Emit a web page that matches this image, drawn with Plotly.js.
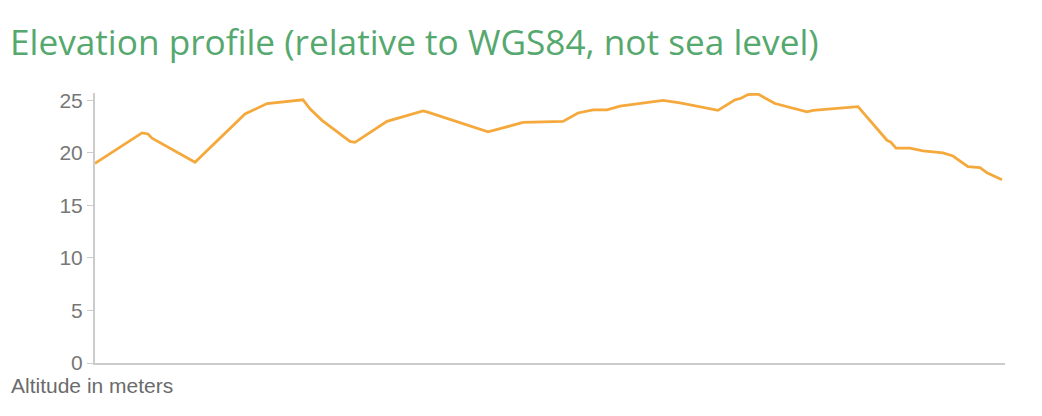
<!DOCTYPE html>
<html><head><meta charset="utf-8">
<script src="https://cdn.plot.ly/plotly-3.0.1.min.js"></script>
<style>html,body{margin:0;padding:0;background:#fff}#chart{width:1042px;height:416px}</style>
</head><body><div id="chart"></div>
<script>
// distance along the route (arbitrary units) and altitude in meters
var distance = [0, 47, 53, 57, 100, 150, 172, 208, 215, 227, 255, 260, 292, 328, 332, 393, 428, 468, 483, 498, 512, 525, 568, 585, 623, 640, 646, 653, 663, 680, 712, 718, 763, 792, 796, 801, 815, 828, 848, 858, 873, 885, 892, 907];
var altitude = [19.0, 21.9, 21.8, 21.4, 19.1, 23.7, 24.7, 25.05, 24.2, 23.1, 21.1, 21.0, 23.0, 24.0, 23.9, 22.0, 22.9, 23.0, 23.8, 24.1, 24.1, 24.45, 25.0, 24.75, 24.05, 25.05, 25.2, 25.55, 25.6, 24.7, 23.9, 24.05, 24.4, 21.2, 21.0, 20.45, 20.45, 20.2, 20.0, 19.7, 18.7, 18.6, 18.1, 17.45];
var yTicks = [0, 5, 10, 15, 20, 25];

var trace = {
  x: distance, y: altitude, type: 'scatter', mode: 'lines',
  line: {color: '#f5a93c', width: 2.8}, hoverinfo: 'skip'
};
var layout = {
  width: 1042, height: 416,
  margin: {l: 95, r: 37, t: 93, b: 53},
  paper_bgcolor: '#fff', plot_bgcolor: '#fff',
  showlegend: false,
  title: {text: 'Elevation profile (relative to WGS84, not sea level)', x: 0.0096, xanchor: 'left', xref: 'container',
          y: 0.897, yanchor: 'middle', yref: 'container',
          font: {family: 'Open Sans, sans-serif', size: 35.2, color: '#55a86e', weight: 500}},
  xaxis: {range: [0, 910], showgrid: false, zeroline: false, showticklabels: false, ticks: '',
          showline: true, linecolor: '#cccccc', linewidth: 2},
  yaxis: {range: [0, 25.7], tickvals: yTicks, ticktext: yTicks.map(String), showgrid: false, zeroline: false,
          showline: true, linecolor: '#cccccc', linewidth: 2, ticks: 'outside', ticklen: 6, tickcolor: '#cccccc', tickwidth: 1,
          tickfont: {family: 'Liberation Sans, Arial, sans-serif', size: 21, color: '#777777'}},
  annotations: [{text: 'Altitude in meters', xref: 'paper', yref: 'paper', x: -0.094, y: -0.035, xanchor: 'left', yanchor: 'top',
                 showarrow: false, font: {family: 'Liberation Sans, Arial, sans-serif', size: 21, color: '#6b6b6b'}}]
};
Plotly.newPlot('chart', [trace], layout, {displayModeBar: false, staticPlot: true});
</script></body></html>
